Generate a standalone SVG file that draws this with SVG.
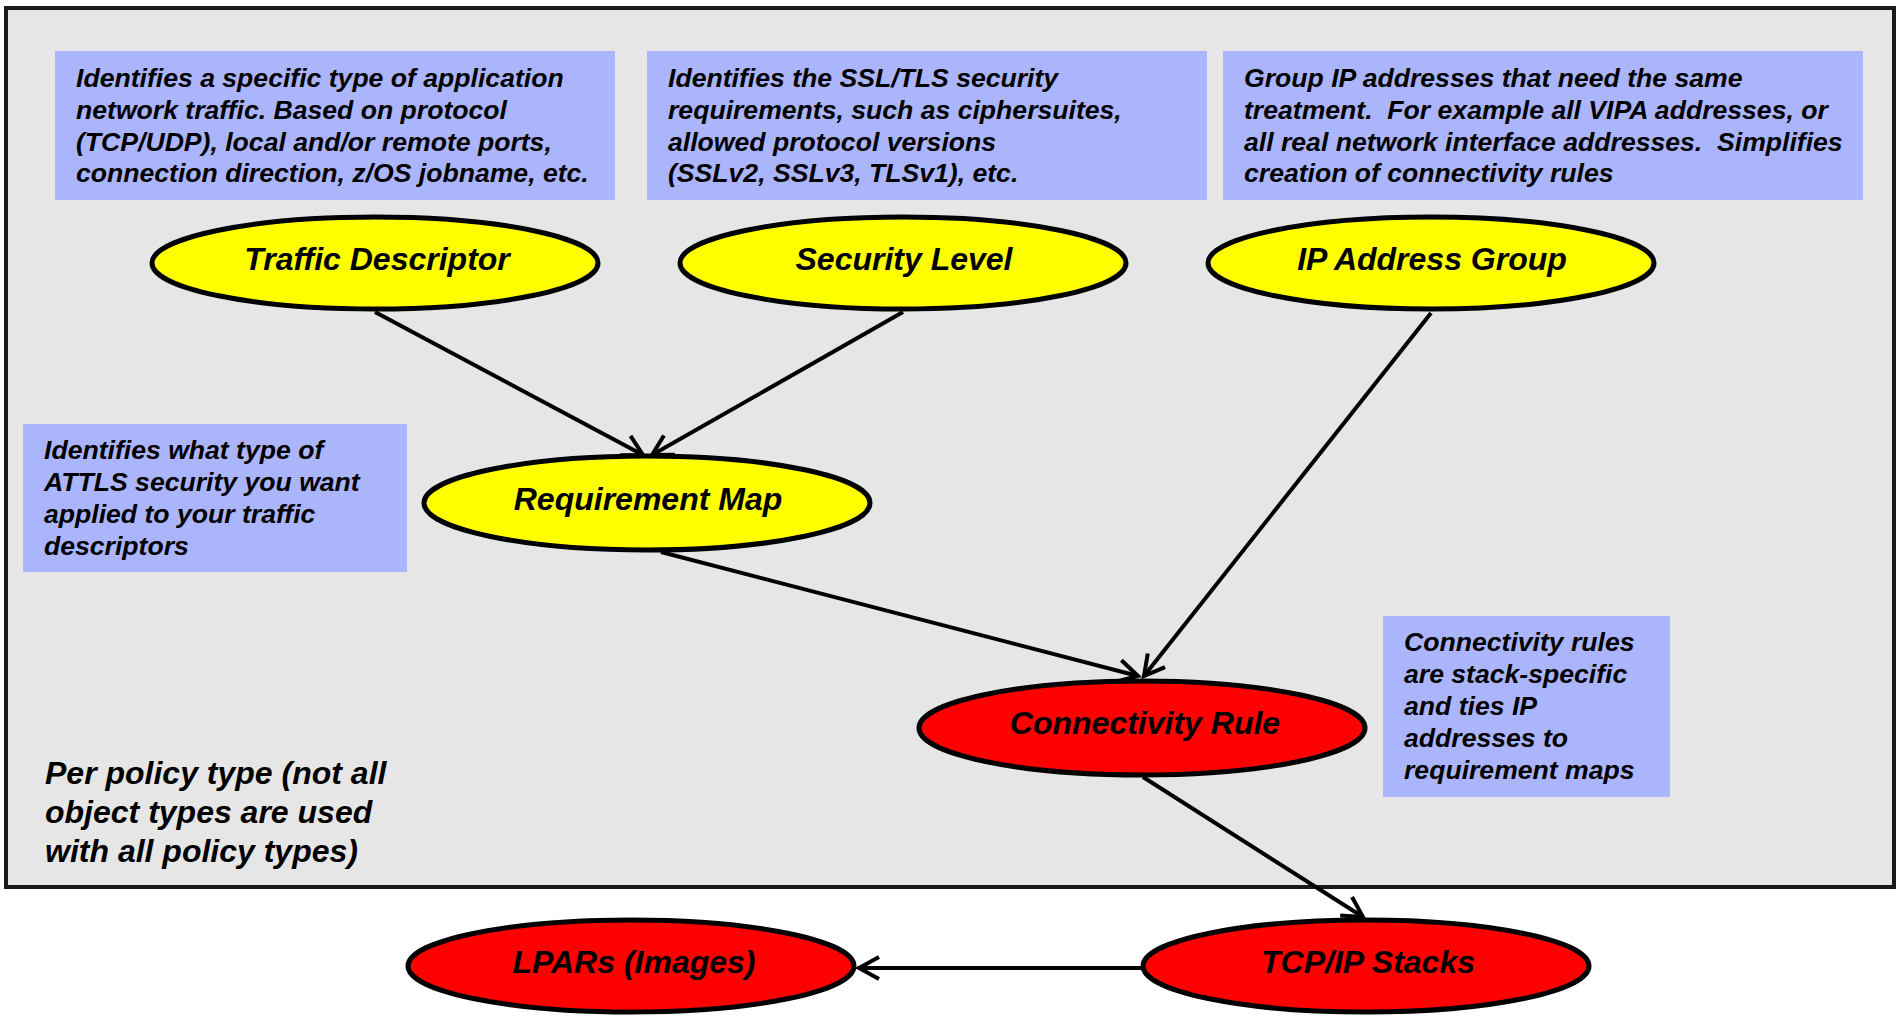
<svg xmlns="http://www.w3.org/2000/svg" width="1902" height="1016" viewBox="0 0 1902 1016">
<style>
.desc{fill:#abb5fb}
.t{font-family:"Liberation Sans",Arial,sans-serif;font-weight:bold;font-style:italic;fill:#000;white-space:pre}
.d{font-size:26.6px}
.n{font-size:32px;text-anchor:middle}
.p{font-size:32px}
.yel{fill:#ffff00;stroke:#000;stroke-width:5}
.red{fill:#ff0000;stroke:#000;stroke-width:5}
.c{fill:none;stroke:#000;stroke-width:4;marker-end:url(#arr)}
</style>
<defs>
<marker id="arr" markerUnits="userSpaceOnUse" markerWidth="30" markerHeight="30" viewBox="-24 -15 28 30" refX="0" refY="0" orient="auto" overflow="visible">
<path d="M-20,-11 L0,0 L-20,11" fill="none" stroke="#000" stroke-width="4"/>
</marker>
</defs>
<rect x="0" y="0" width="1902" height="1016" fill="#fff"/>
<g id="policy-container">
<rect x="6" y="8" width="1888" height="879" fill="#e6e6e6" stroke="#1a1a1a" stroke-width="4"/>
<text class="t p" x="45"><tspan x="45" y="784">Per policy type (not all</tspan><tspan x="45" y="823">object types are used</tspan><tspan x="45" y="862">with all policy types)</tspan></text>
</g>
<g id="note-traffic">
<rect class="desc" x="55" y="51" width="560" height="149"/>
<text class="t d"><tspan x="76" y="87">Identifies a specific type of application</tspan><tspan x="76" y="119">network traffic. Based on protocol</tspan><tspan x="76" y="151">(TCP/UDP), local and/or remote ports,</tspan><tspan x="76" y="182">connection direction, z/OS jobname, etc.</tspan></text>
</g>
<g id="note-security">
<rect class="desc" x="647" y="51" width="560" height="149"/>
<text class="t d"><tspan x="668" y="87">Identifies the SSL/TLS security</tspan><tspan x="668" y="119">requirements, such as ciphersuites,</tspan><tspan x="668" y="151">allowed protocol versions</tspan><tspan x="668" y="182">(SSLv2, SSLv3, TLSv1), etc.</tspan></text>
</g>
<g id="note-ipgroup">
<rect class="desc" x="1223" y="51" width="640" height="149"/>
<text class="t d"><tspan x="1244" y="87">Group IP addresses that need the same</tspan><tspan x="1244" y="119">treatment.  For example all VIPA addresses, or</tspan><tspan x="1244" y="151">all real network interface addresses.  Simplifies</tspan><tspan x="1244" y="182">creation of connectivity rules</tspan></text>
</g>
<g id="note-reqmap">
<rect class="desc" x="23" y="424" width="384" height="148"/>
<text class="t d"><tspan x="44" y="459">Identifies what type of</tspan><tspan x="44" y="491">ATTLS security you want</tspan><tspan x="44" y="523">applied to your traffic</tspan><tspan x="44" y="555">descriptors</tspan></text>
</g>
<g id="note-connrule">
<rect class="desc" x="1383" y="616" width="287" height="181"/>
<text class="t d"><tspan x="1404" y="651">Connectivity rules</tspan><tspan x="1404" y="683">are stack-specific</tspan><tspan x="1404" y="715">and ties IP</tspan><tspan x="1404" y="747">addresses to</tspan><tspan x="1404" y="779">requirement maps</tspan></text>
</g>
<g id="connectors">
<line class="c" x1="375" y1="312" x2="643" y2="455"/>
<line class="c" x1="903" y1="312" x2="652" y2="455"/>
<line class="c" x1="1431" y1="313" x2="1144" y2="676"/>
<line class="c" x1="661" y1="552" x2="1138" y2="676"/>
<line class="c" x1="1143" y1="777" x2="1363" y2="917"/>
<line class="c" x1="1141" y1="968" x2="859" y2="968"/>
</g>
<g id="node-traffic-descriptor">
<ellipse class="yel" cx="375" cy="263" rx="223" ry="46"/>
<text class="t n" x="377" y="270">Traffic Descriptor</text>
</g>
<g id="node-security-level">
<ellipse class="yel" cx="903" cy="263" rx="223" ry="46"/>
<text class="t n" x="904" y="270">Security Level</text>
</g>
<g id="node-ip-address-group">
<ellipse class="yel" cx="1431" cy="263" rx="223" ry="46"/>
<text class="t n" x="1432" y="270">IP Address Group</text>
</g>
<g id="node-requirement-map">
<ellipse class="yel" cx="647" cy="503" rx="223" ry="47"/>
<text class="t n" x="648" y="510">Requirement Map</text>
</g>
<g id="node-connectivity-rule">
<ellipse class="red" cx="1142" cy="728" rx="223" ry="47"/>
<text class="t n" x="1145" y="734">Connectivity Rule</text>
</g>
<g id="node-tcpip-stacks">
<ellipse class="red" cx="1366" cy="966" rx="223" ry="46"/>
<text class="t n" x="1368" y="973">TCP/IP Stacks</text>
</g>
<g id="node-lpars">
<ellipse class="red" cx="631" cy="966" rx="223" ry="46"/>
<text class="t n" x="634" y="973">LPARs (Images)</text>
</g>
</svg>
